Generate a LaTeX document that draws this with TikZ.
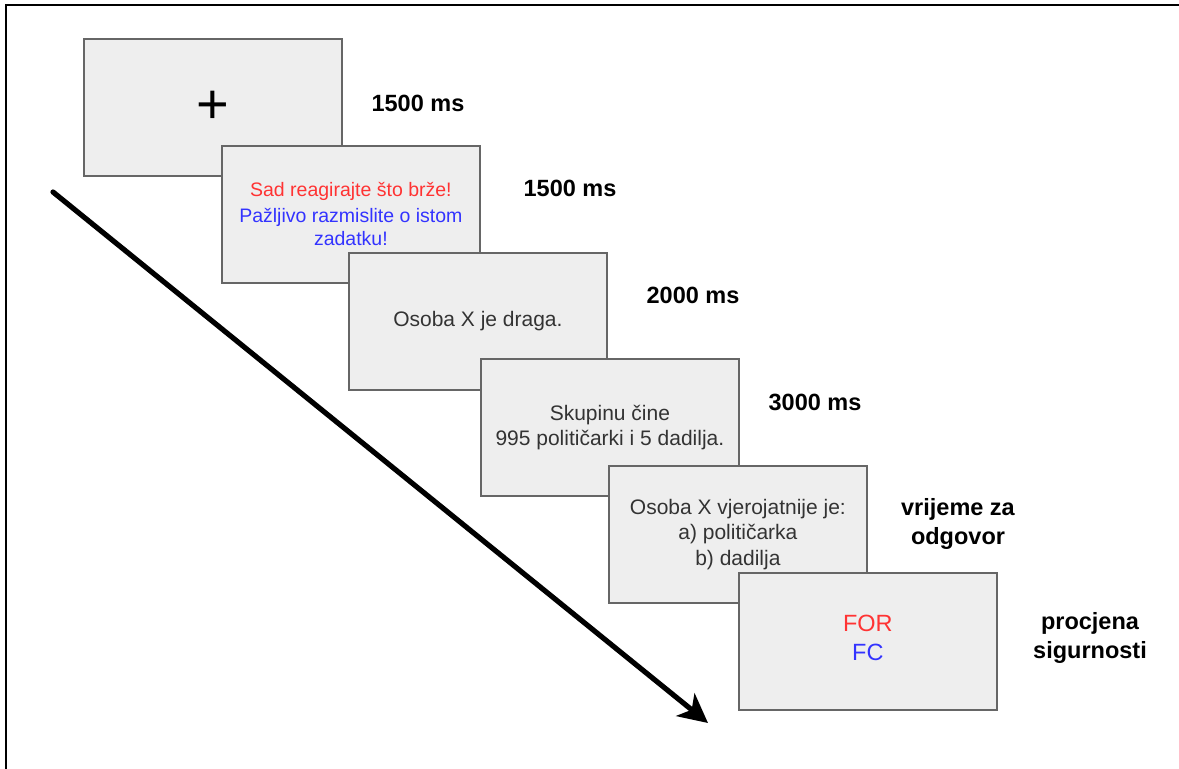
\documentclass[tikz,border=0pt]{standalone}
\usepackage{fontspec}
\setmainfont{Liberation Sans}
\usetikzlibrary{arrows.meta}
\definecolor{boxfill}{HTML}{EEEEEE}
\definecolor{boxline}{HTML}{666666}
\definecolor{txt}{HTML}{333333}
\definecolor{myred}{HTML}{FF3333}
\definecolor{myblue}{HTML}{3333FF}
\begin{document}
\begin{tikzpicture}[x=1pt,y=-1pt,
  screen/.style={draw=boxline, fill=boxfill, line width=1.8pt, minimum width=258pt,
    minimum height=137pt, inner sep=0pt, anchor=north west, align=center, text=txt,
    font=\fontsize{21}{25.5}\selectfont},
  dur/.style={font=\bfseries\fontsize{23.5}{29}\selectfont, align=center, inner sep=0pt, text=black},
  timeline/.style={line width=5.2pt, line cap=round, -{Stealth[length=29pt,width=29pt,inset=8pt]}}]
\useasboundingbox (0,0) rectangle (1179,769);
\fill[white] (0,0) rectangle (1179,769);
\draw[line width=2.2pt] (6,769) -- (6,5) -- (1179,5);

\node[screen, text=black, font=\fontsize{56}{56}\selectfont] (s1) at (83,38) {+};
\node[screen, font=\fontsize{19.5}{23}\selectfont] (s2) at (221,145)
  {\textcolor{myred}{Sad reagirajte što brže!}\\[3pt]\textcolor{myblue}{Pažljivo razmislite o istom}\\\textcolor{myblue}{zadatku!}};
\node[screen] (s3) at (348,252) {Osoba X je draga.};
\node[screen] (s4) at (480,358) {Skupinu čine\\995 političarki i 5 dadilja.};
\node[screen] (s5) at (608,465) {Osoba X vjerojatnije je:\\a) političarka\\b) dadilja};
\node[screen, font=\fontsize{23.5}{30}\selectfont] (s6) at (738,572)
  {\textcolor{myred}{FOR}\\[-1pt]\textcolor{myblue}{FC}\\[-22pt]};

\node[dur] (d1) at (418,103) {1500 ms};
\node[dur] (d2) at (570,188) {1500 ms};
\node[dur] (d3) at (693,295) {2000 ms};
\node[dur] (d4) at (815,402) {3000 ms};
\node[dur] (d5) at (958,524) {vrijeme za\\odgovor};
\node[dur] (d6) at (1090,638) {procjena\\sigurnosti};

\coordinate (a0) at (53,192);
\coordinate (a1) at (708,723);
\draw[timeline] (a0) -- (a1);
\end{tikzpicture}
\end{document}
